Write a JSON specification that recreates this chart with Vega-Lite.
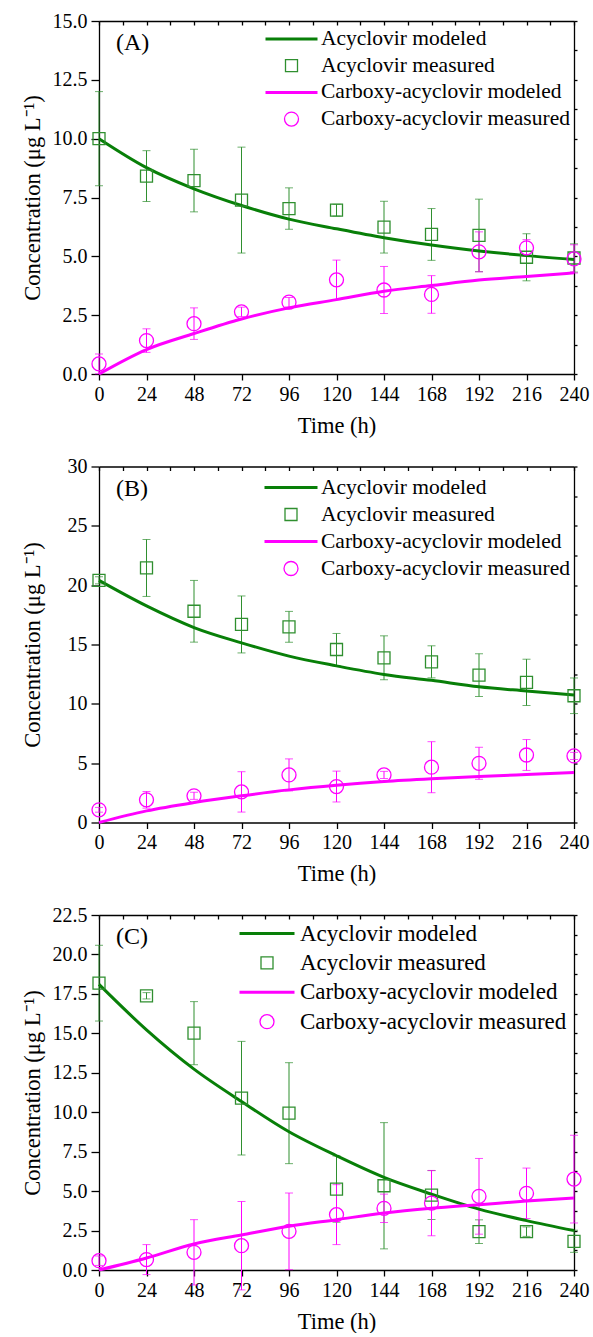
{
  "$schema": "https://vega.github.io/schema/vega-lite/v6.json",
  "background": "white",
  "padding": {"left": 21, "top": 11, "right": 4, "bottom": 0},
  "spacing": 19.5,
  "config": {
    "font": "Liberation Serif",
    "view": {"stroke": null},
    "axis": {
      "labelFont": "Liberation Serif", "labelFontSize": 20, "labelColor": "black",
      "titleFont": "Liberation Serif", "titleFontSize": 22.5, "titleFontWeight": "normal", "titleColor": "black",
      "domainColor": "black", "domainWidth": 1.3, "tickColor": "black", "tickWidth": 1.3, "grid": false
    },
    "legend": {
      "labelFont": "Liberation Serif", "labelColor": "black", "labelLimit": 400,
      "padding": 0, "symbolOffset": 0, "clipHeight": 22
    },
    "title": {"font": "Liberation Serif", "fontSize": 24, "fontWeight": "normal", "color": "black"}
  },
  "resolve": {
    "scale": {"color": "independent", "shape": "independent", "size": "independent", "strokeWidth": "independent"},
    "legend": {"color": "independent", "shape": "independent", "size": "independent", "strokeWidth": "independent"}
  },
  "datasets": {
    "modeled": [
      {"panel": "A", "series": "Acyclovir modeled", "time": 0, "value": 10.0},
      {"panel": "A", "series": "Acyclovir modeled", "time": 24, "value": 8.77},
      {"panel": "A", "series": "Acyclovir modeled", "time": 48, "value": 7.87},
      {"panel": "A", "series": "Acyclovir modeled", "time": 72, "value": 7.16},
      {"panel": "A", "series": "Acyclovir modeled", "time": 96, "value": 6.58},
      {"panel": "A", "series": "Acyclovir modeled", "time": 120, "value": 6.17},
      {"panel": "A", "series": "Acyclovir modeled", "time": 144, "value": 5.79},
      {"panel": "A", "series": "Acyclovir modeled", "time": 168, "value": 5.48},
      {"panel": "A", "series": "Acyclovir modeled", "time": 192, "value": 5.23},
      {"panel": "A", "series": "Acyclovir modeled", "time": 216, "value": 5.03},
      {"panel": "A", "series": "Acyclovir modeled", "time": 240, "value": 4.87},
      {"panel": "A", "series": "Carboxy-acyclovir modeled", "time": 0, "value": 0.0},
      {"panel": "A", "series": "Carboxy-acyclovir modeled", "time": 24, "value": 1.04},
      {"panel": "A", "series": "Carboxy-acyclovir modeled", "time": 48, "value": 1.72},
      {"panel": "A", "series": "Carboxy-acyclovir modeled", "time": 72, "value": 2.34},
      {"panel": "A", "series": "Carboxy-acyclovir modeled", "time": 96, "value": 2.81},
      {"panel": "A", "series": "Carboxy-acyclovir modeled", "time": 120, "value": 3.16},
      {"panel": "A", "series": "Carboxy-acyclovir modeled", "time": 144, "value": 3.52},
      {"panel": "A", "series": "Carboxy-acyclovir modeled", "time": 168, "value": 3.76},
      {"panel": "A", "series": "Carboxy-acyclovir modeled", "time": 192, "value": 3.99},
      {"panel": "A", "series": "Carboxy-acyclovir modeled", "time": 216, "value": 4.14},
      {"panel": "A", "series": "Carboxy-acyclovir modeled", "time": 240, "value": 4.30},
      {"panel": "B", "series": "Acyclovir modeled", "time": 0, "value": 20.4},
      {"panel": "B", "series": "Acyclovir modeled", "time": 24, "value": 18.25},
      {"panel": "B", "series": "Acyclovir modeled", "time": 48, "value": 16.43},
      {"panel": "B", "series": "Acyclovir modeled", "time": 72, "value": 15.14},
      {"panel": "B", "series": "Acyclovir modeled", "time": 96, "value": 14.02},
      {"panel": "B", "series": "Acyclovir modeled", "time": 120, "value": 13.2},
      {"panel": "B", "series": "Acyclovir modeled", "time": 144, "value": 12.48},
      {"panel": "B", "series": "Acyclovir modeled", "time": 168, "value": 11.98},
      {"panel": "B", "series": "Acyclovir modeled", "time": 192, "value": 11.44},
      {"panel": "B", "series": "Acyclovir modeled", "time": 216, "value": 11.08},
      {"panel": "B", "series": "Acyclovir modeled", "time": 240, "value": 10.74},
      {"panel": "B", "series": "Carboxy-acyclovir modeled", "time": 0, "value": 0.0},
      {"panel": "B", "series": "Carboxy-acyclovir modeled", "time": 24, "value": 0.98},
      {"panel": "B", "series": "Carboxy-acyclovir modeled", "time": 48, "value": 1.68},
      {"panel": "B", "series": "Carboxy-acyclovir modeled", "time": 72, "value": 2.25},
      {"panel": "B", "series": "Carboxy-acyclovir modeled", "time": 96, "value": 2.75},
      {"panel": "B", "series": "Carboxy-acyclovir modeled", "time": 120, "value": 3.14},
      {"panel": "B", "series": "Carboxy-acyclovir modeled", "time": 144, "value": 3.45},
      {"panel": "B", "series": "Carboxy-acyclovir modeled", "time": 168, "value": 3.68},
      {"panel": "B", "series": "Carboxy-acyclovir modeled", "time": 192, "value": 3.87},
      {"panel": "B", "series": "Carboxy-acyclovir modeled", "time": 216, "value": 4.04},
      {"panel": "B", "series": "Carboxy-acyclovir modeled", "time": 240, "value": 4.21},
      {"panel": "C", "series": "Acyclovir modeled", "time": 0, "value": 18.1},
      {"panel": "C", "series": "Acyclovir modeled", "time": 24, "value": 15.22},
      {"panel": "C", "series": "Acyclovir modeled", "time": 48, "value": 12.73},
      {"panel": "C", "series": "Acyclovir modeled", "time": 72, "value": 10.68},
      {"panel": "C", "series": "Acyclovir modeled", "time": 96, "value": 8.76},
      {"panel": "C", "series": "Acyclovir modeled", "time": 120, "value": 7.24},
      {"panel": "C", "series": "Acyclovir modeled", "time": 144, "value": 5.87},
      {"panel": "C", "series": "Acyclovir modeled", "time": 168, "value": 4.81},
      {"panel": "C", "series": "Acyclovir modeled", "time": 192, "value": 3.86},
      {"panel": "C", "series": "Acyclovir modeled", "time": 216, "value": 3.13},
      {"panel": "C", "series": "Acyclovir modeled", "time": 240, "value": 2.5},
      {"panel": "C", "series": "Carboxy-acyclovir modeled", "time": 0, "value": 0.0},
      {"panel": "C", "series": "Carboxy-acyclovir modeled", "time": 24, "value": 0.76},
      {"panel": "C", "series": "Carboxy-acyclovir modeled", "time": 48, "value": 1.65},
      {"panel": "C", "series": "Carboxy-acyclovir modeled", "time": 72, "value": 2.22},
      {"panel": "C", "series": "Carboxy-acyclovir modeled", "time": 96, "value": 2.77},
      {"panel": "C", "series": "Carboxy-acyclovir modeled", "time": 120, "value": 3.19},
      {"panel": "C", "series": "Carboxy-acyclovir modeled", "time": 144, "value": 3.61},
      {"panel": "C", "series": "Carboxy-acyclovir modeled", "time": 168, "value": 3.91},
      {"panel": "C", "series": "Carboxy-acyclovir modeled", "time": 192, "value": 4.14},
      {"panel": "C", "series": "Carboxy-acyclovir modeled", "time": 216, "value": 4.37},
      {"panel": "C", "series": "Carboxy-acyclovir modeled", "time": 240, "value": 4.56}
    ],
    "measured": [
      {"panel": "A", "series": "Acyclovir measured", "time": 0, "value": 10.0, "err": 2.0},
      {"panel": "A", "series": "Acyclovir measured", "time": 24, "value": 8.41, "err": 1.08},
      {"panel": "A", "series": "Acyclovir measured", "time": 48, "value": 8.22, "err": 1.33},
      {"panel": "A", "series": "Acyclovir measured", "time": 72, "value": 7.39, "err": 2.25},
      {"panel": "A", "series": "Acyclovir measured", "time": 96, "value": 7.03, "err": 0.88},
      {"panel": "A", "series": "Acyclovir measured", "time": 120, "value": 6.96, "err": 0.25},
      {"panel": "A", "series": "Acyclovir measured", "time": 144, "value": 6.24, "err": 1.1},
      {"panel": "A", "series": "Acyclovir measured", "time": 168, "value": 5.93, "err": 1.1},
      {"panel": "A", "series": "Acyclovir measured", "time": 192, "value": 5.89, "err": 1.54},
      {"panel": "A", "series": "Acyclovir measured", "time": 216, "value": 4.96, "err": 1.0},
      {"panel": "A", "series": "Acyclovir measured", "time": 240, "value": 4.93, "err": 0.6},
      {"panel": "A", "series": "Carboxy-acyclovir measured", "time": 0, "value": 0.43, "err": 0.42},
      {"panel": "A", "series": "Carboxy-acyclovir measured", "time": 24, "value": 1.42, "err": 0.5},
      {"panel": "A", "series": "Carboxy-acyclovir measured", "time": 48, "value": 2.14, "err": 0.67},
      {"panel": "A", "series": "Carboxy-acyclovir measured", "time": 72, "value": 2.64, "err": 0.2},
      {"panel": "A", "series": "Carboxy-acyclovir measured", "time": 96, "value": 3.05, "err": 0.2},
      {"panel": "A", "series": "Carboxy-acyclovir measured", "time": 120, "value": 4.0, "err": 0.84},
      {"panel": "A", "series": "Carboxy-acyclovir measured", "time": 144, "value": 3.57, "err": 1.0},
      {"panel": "A", "series": "Carboxy-acyclovir measured", "time": 168, "value": 3.38, "err": 0.8},
      {"panel": "A", "series": "Carboxy-acyclovir measured", "time": 192, "value": 5.19, "err": 0.85},
      {"panel": "A", "series": "Carboxy-acyclovir measured", "time": 216, "value": 5.36, "err": 0.35},
      {"panel": "A", "series": "Carboxy-acyclovir measured", "time": 240, "value": 4.89, "err": 0.6},
      {"panel": "B", "series": "Acyclovir measured", "time": 0, "value": 20.41, "err": 0.3},
      {"panel": "B", "series": "Acyclovir measured", "time": 24, "value": 21.45, "err": 2.4},
      {"panel": "B", "series": "Acyclovir measured", "time": 48, "value": 17.8, "err": 2.6},
      {"panel": "B", "series": "Acyclovir measured", "time": 72, "value": 16.69, "err": 2.4},
      {"panel": "B", "series": "Acyclovir measured", "time": 96, "value": 16.49, "err": 1.3},
      {"panel": "B", "series": "Acyclovir measured", "time": 120, "value": 14.58, "err": 1.35},
      {"panel": "B", "series": "Acyclovir measured", "time": 144, "value": 13.88, "err": 1.85},
      {"panel": "B", "series": "Acyclovir measured", "time": 168, "value": 13.54, "err": 1.35},
      {"panel": "B", "series": "Acyclovir measured", "time": 192, "value": 12.42, "err": 1.8},
      {"panel": "B", "series": "Acyclovir measured", "time": 216, "value": 11.81, "err": 1.95},
      {"panel": "B", "series": "Acyclovir measured", "time": 240, "value": 10.68, "err": 1.5},
      {"panel": "B", "series": "Carboxy-acyclovir measured", "time": 0, "value": 1.07, "err": 0.2},
      {"panel": "B", "series": "Carboxy-acyclovir measured", "time": 24, "value": 1.91, "err": 0.7},
      {"panel": "B", "series": "Carboxy-acyclovir measured", "time": 48, "value": 2.25, "err": 0.3},
      {"panel": "B", "series": "Carboxy-acyclovir measured", "time": 72, "value": 2.58, "err": 1.7},
      {"panel": "B", "series": "Carboxy-acyclovir measured", "time": 96, "value": 4.01, "err": 1.35},
      {"panel": "B", "series": "Carboxy-acyclovir measured", "time": 120, "value": 3.03, "err": 1.3},
      {"panel": "B", "series": "Carboxy-acyclovir measured", "time": 144, "value": 4.01, "err": 0.3},
      {"panel": "B", "series": "Carboxy-acyclovir measured", "time": 168, "value": 4.66, "err": 2.15},
      {"panel": "B", "series": "Carboxy-acyclovir measured", "time": 192, "value": 4.99, "err": 1.35},
      {"panel": "B", "series": "Carboxy-acyclovir measured", "time": 216, "value": 5.69, "err": 1.3},
      {"panel": "B", "series": "Carboxy-acyclovir measured", "time": 240, "value": 5.61, "err": 0.3},
      {"panel": "C", "series": "Acyclovir measured", "time": 0, "value": 18.18, "err": 2.4},
      {"panel": "C", "series": "Acyclovir measured", "time": 24, "value": 17.38, "err": 0.2},
      {"panel": "C", "series": "Acyclovir measured", "time": 48, "value": 15.01, "err": 2.0},
      {"panel": "C", "series": "Acyclovir measured", "time": 72, "value": 10.89, "err": 3.6},
      {"panel": "C", "series": "Acyclovir measured", "time": 96, "value": 9.94, "err": 3.2},
      {"panel": "C", "series": "Acyclovir measured", "time": 120, "value": 5.13, "err": 2.1},
      {"panel": "C", "series": "Acyclovir measured", "time": 144, "value": 5.34, "err": 4.0},
      {"panel": "C", "series": "Acyclovir measured", "time": 168, "value": 4.75, "err": 1.55},
      {"panel": "C", "series": "Acyclovir measured", "time": 192, "value": 2.43, "err": 0.75},
      {"panel": "C", "series": "Acyclovir measured", "time": 216, "value": 2.43, "err": 0.3},
      {"panel": "C", "series": "Acyclovir measured", "time": 240, "value": 1.82, "err": 0.7},
      {"panel": "C", "series": "Carboxy-acyclovir measured", "time": 0, "value": 0.59, "err": 0.3},
      {"panel": "C", "series": "Carboxy-acyclovir measured", "time": 24, "value": 0.66, "err": 0.95},
      {"panel": "C", "series": "Carboxy-acyclovir measured", "time": 48, "value": 1.12, "err": 2.07},
      {"panel": "C", "series": "Carboxy-acyclovir measured", "time": 72, "value": 1.54, "err": 2.8},
      {"panel": "C", "series": "Carboxy-acyclovir measured", "time": 96, "value": 2.45, "err": 2.43},
      {"panel": "C", "series": "Carboxy-acyclovir measured", "time": 120, "value": 3.51, "err": 1.9},
      {"panel": "C", "series": "Carboxy-acyclovir measured", "time": 144, "value": 3.91, "err": 0.9},
      {"panel": "C", "series": "Carboxy-acyclovir measured", "time": 168, "value": 4.24, "err": 2.07},
      {"panel": "C", "series": "Carboxy-acyclovir measured", "time": 192, "value": 4.67, "err": 2.4},
      {"panel": "C", "series": "Carboxy-acyclovir measured", "time": 216, "value": 4.86, "err": 1.6},
      {"panel": "C", "series": "Carboxy-acyclovir measured", "time": 240, "value": 5.76, "err": 2.78}
    ]
  },
  "vconcat": [
    {
      "width": 475, "height": 353,
      "title": {"text": "(A)", "anchor": "start", "frame": "group", "dx": 17, "dy": 44, "offset": 0},
      "resolve": {"axis": {"x": "independent", "y": "independent"}},
      "layer": [
        {
          "data": {"name": "measured"},
          "transform": [{"filter": "datum.panel === 'A' && datum.series === 'Acyclovir measured'"}],
          "mark": {"type": "errorbar", "ticks": {"size": 8}, "thickness": 1, "color": "#2f8f2f"},
          "encoding": {
            "x": {"field": "time", "type": "quantitative", "scale": {"domain": [0, 240], "nice": false}, "axis": null},
            "y": {"field": "value", "type": "quantitative", "scale": {"domain": [0, 15], "nice": false}, "axis": null},
            "yError": {"field": "err"}
          }
        },
        {
          "data": {"name": "measured"},
          "transform": [{"filter": "datum.panel === 'A' && datum.series === 'Carboxy-acyclovir measured'"}],
          "mark": {"type": "errorbar", "ticks": {"size": 8}, "thickness": 1, "color": "#ff00ff"},
          "encoding": {
            "x": {"field": "time", "type": "quantitative", "scale": {"domain": [0, 240], "nice": false}, "axis": null},
            "y": {"field": "value", "type": "quantitative", "scale": {"domain": [0, 15], "nice": false}, "axis": null},
            "yError": {"field": "err"}
          }
        },
        {
          "data": {"name": "modeled"},
          "transform": [{"filter": "datum.panel === 'A'"}],
          "mark": {"type": "line", "interpolate": "monotone"},
          "encoding": {
            "x": {"field": "time", "type": "quantitative", "scale": {"domain": [0, 240], "nice": false},
                  "axis": {"orient": "bottom", "values": [0, 24, 48, 72, 96, 120, 144, 168, 192, 216, 240], "title": "Time (h)", "tickSize": 6, "labelPadding": 4, "titlePadding": 10, "labelFlush": false}},
            "y": {"field": "value", "type": "quantitative", "scale": {"domain": [0, 15], "nice": false},
                  "axis": {"orient": "left", "values": [0, 2.5, 5, 7.5, 10, 12.5, 15], "format": ".1f", "title": "Concentration (μg L⁻¹)", "tickSize": 8, "labelPadding": 4, "titleX": -60, "titleBaseline": "alphabetic"}},
            "color": {"field": "series", "type": "nominal", "scale": {"domain": ["Acyclovir modeled", "Acyclovir measured", "Carboxy-acyclovir modeled", "Carboxy-acyclovir measured"], "range": ["#087f08", "#2f8f2f", "#ff00ff", "#ff00ff"]}},
            "strokeWidth": {"field": "series", "type": "nominal", "scale": {"type": "ordinal", "domain": ["Acyclovir modeled", "Acyclovir measured", "Carboxy-acyclovir modeled", "Carboxy-acyclovir measured"], "range": [3, 1.3, 3, 1.3]}}
          }
        },
        {
          "data": {"name": "measured"},
          "transform": [{"filter": "datum.panel === 'A'"}],
          "mark": {"type": "point", "filled": false, "opacity": 1},
          "encoding": {
            "x": {"field": "time", "type": "quantitative", "scale": {"domain": [0, 240], "nice": false},
                  "axis": {"orient": "top", "values": [0, 12, 24, 36, 48, 60, 72, 84, 96, 108, 120, 132, 144, 156, 168, 180, 192, 204, 216, 228, 240], "labels": false, "title": null, "tickSize": -4}},
            "y": {"field": "value", "type": "quantitative", "scale": {"domain": [0, 15], "nice": false},
                  "axis": {"orient": "right", "values": [0, 1.25, 2.5, 3.75, 5, 6.25, 7.5, 8.75, 10, 11.25, 12.5, 13.75, 15], "labels": false, "title": null, "tickSize": 3}},
            "color": {"field": "series", "type": "nominal", "scale": {"domain": ["Acyclovir modeled", "Acyclovir measured", "Carboxy-acyclovir modeled", "Carboxy-acyclovir measured"], "range": ["#087f08", "#2f8f2f", "#ff00ff", "#ff00ff"]},
                      "legend": {"title": null, "orient": "none", "legendX": 165, "legendY": 7, "labelFontSize": 21.5, "labelOffset": 2, "rowPadding": 4.7}},
            "shape": {"field": "series", "type": "nominal", "scale": {"domain": ["Acyclovir modeled", "Acyclovir measured", "Carboxy-acyclovir modeled", "Carboxy-acyclovir measured"], "range": ["stroke", "square", "stroke", "circle"]}},
            "size": {"field": "series", "type": "nominal", "scale": {"type": "ordinal", "domain": ["Acyclovir modeled", "Acyclovir measured", "Carboxy-acyclovir modeled", "Carboxy-acyclovir measured"], "range": [2704, 144, 2704, 196]}},
            "strokeWidth": {"field": "series", "type": "nominal", "scale": {"type": "ordinal", "domain": ["Acyclovir modeled", "Acyclovir measured", "Carboxy-acyclovir modeled", "Carboxy-acyclovir measured"], "range": [3, 1.3, 3, 1.3]}}
          }
        }
      ]
    },
    {
      "width": 475, "height": 356,
      "title": {"text": "(B)", "anchor": "start", "frame": "group", "dx": 17, "dy": 44, "offset": 0},
      "resolve": {"axis": {"x": "independent", "y": "independent"}},
      "layer": [
        {
          "data": {"name": "measured"},
          "transform": [{"filter": "datum.panel === 'B' && datum.series === 'Acyclovir measured'"}],
          "mark": {"type": "errorbar", "ticks": {"size": 8}, "thickness": 1, "color": "#2f8f2f"},
          "encoding": {
            "x": {"field": "time", "type": "quantitative", "scale": {"domain": [0, 240], "nice": false}, "axis": null},
            "y": {"field": "value", "type": "quantitative", "scale": {"domain": [0, 30], "nice": false}, "axis": null},
            "yError": {"field": "err"}
          }
        },
        {
          "data": {"name": "measured"},
          "transform": [{"filter": "datum.panel === 'B' && datum.series === 'Carboxy-acyclovir measured'"}],
          "mark": {"type": "errorbar", "ticks": {"size": 8}, "thickness": 1, "color": "#ff00ff"},
          "encoding": {
            "x": {"field": "time", "type": "quantitative", "scale": {"domain": [0, 240], "nice": false}, "axis": null},
            "y": {"field": "value", "type": "quantitative", "scale": {"domain": [0, 30], "nice": false}, "axis": null},
            "yError": {"field": "err"}
          }
        },
        {
          "data": {"name": "modeled"},
          "transform": [{"filter": "datum.panel === 'B'"}],
          "mark": {"type": "line", "interpolate": "monotone"},
          "encoding": {
            "x": {"field": "time", "type": "quantitative", "scale": {"domain": [0, 240], "nice": false},
                  "axis": {"orient": "bottom", "values": [0, 24, 48, 72, 96, 120, 144, 168, 192, 216, 240], "title": "Time (h)", "tickSize": 6, "labelPadding": 4, "titlePadding": 10, "labelFlush": false}},
            "y": {"field": "value", "type": "quantitative", "scale": {"domain": [0, 30], "nice": false},
                  "axis": {"orient": "left", "values": [0, 5, 10, 15, 20, 25, 30], "format": "d", "title": "Concentration (μg L⁻¹)", "tickSize": 8, "labelPadding": 4, "titleX": -60, "titleBaseline": "alphabetic"}},
            "color": {"field": "series", "type": "nominal", "scale": {"domain": ["Acyclovir modeled", "Acyclovir measured", "Carboxy-acyclovir modeled", "Carboxy-acyclovir measured"], "range": ["#087f08", "#2f8f2f", "#ff00ff", "#ff00ff"]}},
            "strokeWidth": {"field": "series", "type": "nominal", "scale": {"type": "ordinal", "domain": ["Acyclovir modeled", "Acyclovir measured", "Carboxy-acyclovir modeled", "Carboxy-acyclovir measured"], "range": [3, 1.3, 3, 1.3]}}
          }
        },
        {
          "data": {"name": "measured"},
          "transform": [{"filter": "datum.panel === 'B'"}],
          "mark": {"type": "point", "filled": false, "opacity": 1},
          "encoding": {
            "x": {"field": "time", "type": "quantitative", "scale": {"domain": [0, 240], "nice": false},
                  "axis": {"orient": "top", "values": [0, 12, 24, 36, 48, 60, 72, 84, 96, 108, 120, 132, 144, 156, 168, 180, 192, 204, 216, 228, 240], "labels": false, "title": null, "tickSize": -4}},
            "y": {"field": "value", "type": "quantitative", "scale": {"domain": [0, 30], "nice": false},
                  "axis": {"orient": "right", "values": [0, 2.5, 5, 7.5, 10, 12.5, 15, 17.5, 20, 22.5, 25, 27.5, 30], "labels": false, "title": null, "tickSize": 3}},
            "color": {"field": "series", "type": "nominal", "scale": {"domain": ["Acyclovir modeled", "Acyclovir measured", "Carboxy-acyclovir modeled", "Carboxy-acyclovir measured"], "range": ["#087f08", "#2f8f2f", "#ff00ff", "#ff00ff"]},
                      "legend": {"title": null, "orient": "none", "legendX": 164, "legendY": 10, "labelFontSize": 21.5, "labelOffset": 2, "rowPadding": 5}},
            "shape": {"field": "series", "type": "nominal", "scale": {"domain": ["Acyclovir modeled", "Acyclovir measured", "Carboxy-acyclovir modeled", "Carboxy-acyclovir measured"], "range": ["stroke", "square", "stroke", "circle"]}},
            "size": {"field": "series", "type": "nominal", "scale": {"type": "ordinal", "domain": ["Acyclovir modeled", "Acyclovir measured", "Carboxy-acyclovir modeled", "Carboxy-acyclovir measured"], "range": [2809, 144, 2809, 196]}},
            "strokeWidth": {"field": "series", "type": "nominal", "scale": {"type": "ordinal", "domain": ["Acyclovir modeled", "Acyclovir measured", "Carboxy-acyclovir modeled", "Carboxy-acyclovir measured"], "range": [3, 1.3, 3, 1.3]}}
          }
        }
      ]
    },
    {
      "width": 475, "height": 355,
      "title": {"text": "(C)", "anchor": "start", "frame": "group", "dx": 17, "dy": 44, "offset": 0},
      "resolve": {"axis": {"x": "independent", "y": "independent"}},
      "layer": [
        {
          "data": {"name": "measured"},
          "transform": [{"filter": "datum.panel === 'C' && datum.series === 'Acyclovir measured'"}],
          "mark": {"type": "errorbar", "ticks": {"size": 8}, "thickness": 1, "color": "#2f8f2f"},
          "encoding": {
            "x": {"field": "time", "type": "quantitative", "scale": {"domain": [0, 240], "nice": false}, "axis": null},
            "y": {"field": "value", "type": "quantitative", "scale": {"domain": [0, 22.5], "nice": false}, "axis": null},
            "yError": {"field": "err"}
          }
        },
        {
          "data": {"name": "measured"},
          "transform": [{"filter": "datum.panel === 'C' && datum.series === 'Carboxy-acyclovir measured'"}],
          "mark": {"type": "errorbar", "ticks": {"size": 8}, "thickness": 1, "color": "#ff00ff"},
          "encoding": {
            "x": {"field": "time", "type": "quantitative", "scale": {"domain": [0, 240], "nice": false}, "axis": null},
            "y": {"field": "value", "type": "quantitative", "scale": {"domain": [0, 22.5], "nice": false}, "axis": null},
            "yError": {"field": "err"}
          }
        },
        {
          "data": {"name": "modeled"},
          "transform": [{"filter": "datum.panel === 'C'"}],
          "mark": {"type": "line", "interpolate": "monotone"},
          "encoding": {
            "x": {"field": "time", "type": "quantitative", "scale": {"domain": [0, 240], "nice": false},
                  "axis": {"orient": "bottom", "values": [0, 24, 48, 72, 96, 120, 144, 168, 192, 216, 240], "title": "Time (h)", "tickSize": 6, "labelPadding": 4, "titlePadding": 10, "labelFlush": false}},
            "y": {"field": "value", "type": "quantitative", "scale": {"domain": [0, 22.5], "nice": false},
                  "axis": {"orient": "left", "values": [0, 2.5, 5, 7.5, 10, 12.5, 15, 17.5, 20, 22.5], "format": ".1f", "title": "Concentration (μg L⁻¹)", "tickSize": 8, "labelPadding": 4, "titleX": -60, "titleBaseline": "alphabetic"}},
            "color": {"field": "series", "type": "nominal", "scale": {"domain": ["Acyclovir modeled", "Acyclovir measured", "Carboxy-acyclovir modeled", "Carboxy-acyclovir measured"], "range": ["#087f08", "#2f8f2f", "#ff00ff", "#ff00ff"]}},
            "strokeWidth": {"field": "series", "type": "nominal", "scale": {"type": "ordinal", "domain": ["Acyclovir modeled", "Acyclovir measured", "Carboxy-acyclovir modeled", "Carboxy-acyclovir measured"], "range": [3, 1.3, 3, 1.3]}}
          }
        },
        {
          "data": {"name": "measured"},
          "transform": [{"filter": "datum.panel === 'C'"}],
          "mark": {"type": "point", "filled": false, "opacity": 1},
          "encoding": {
            "x": {"field": "time", "type": "quantitative", "scale": {"domain": [0, 240], "nice": false},
                  "axis": {"orient": "top", "values": [0, 12, 24, 36, 48, 60, 72, 84, 96, 108, 120, 132, 144, 156, 168, 180, 192, 204, 216, 228, 240], "labels": false, "title": null, "tickSize": -4}},
            "y": {"field": "value", "type": "quantitative", "scale": {"domain": [0, 22.5], "nice": false},
                  "axis": {"orient": "right", "values": [0, 1.25, 2.5, 3.75, 5, 6.25, 7.5, 8.75, 10, 11.25, 12.5, 13.75, 15, 16.25, 17.5, 18.75, 20, 21.25, 22.5], "labels": false, "title": null, "tickSize": 3}},
            "color": {"field": "series", "type": "nominal", "scale": {"domain": ["Acyclovir modeled", "Acyclovir measured", "Carboxy-acyclovir modeled", "Carboxy-acyclovir measured"], "range": ["#087f08", "#2f8f2f", "#ff00ff", "#ff00ff"]},
                      "legend": {"title": null, "orient": "none", "legendX": 139, "legendY": 7, "labelFontSize": 23, "labelOffset": 4, "rowPadding": 5.4, "clipHeight": 23}},
            "shape": {"field": "series", "type": "nominal", "scale": {"domain": ["Acyclovir modeled", "Acyclovir measured", "Carboxy-acyclovir modeled", "Carboxy-acyclovir measured"], "range": ["stroke", "square", "stroke", "circle"]}},
            "size": {"field": "series", "type": "nominal", "scale": {"type": "ordinal", "domain": ["Acyclovir modeled", "Acyclovir measured", "Carboxy-acyclovir modeled", "Carboxy-acyclovir measured"], "range": [3025, 144, 3025, 196]}},
            "strokeWidth": {"field": "series", "type": "nominal", "scale": {"type": "ordinal", "domain": ["Acyclovir modeled", "Acyclovir measured", "Carboxy-acyclovir modeled", "Carboxy-acyclovir measured"], "range": [3, 1.3, 3, 1.3]}}
          }
        }
      ]
    }
  ]
}
